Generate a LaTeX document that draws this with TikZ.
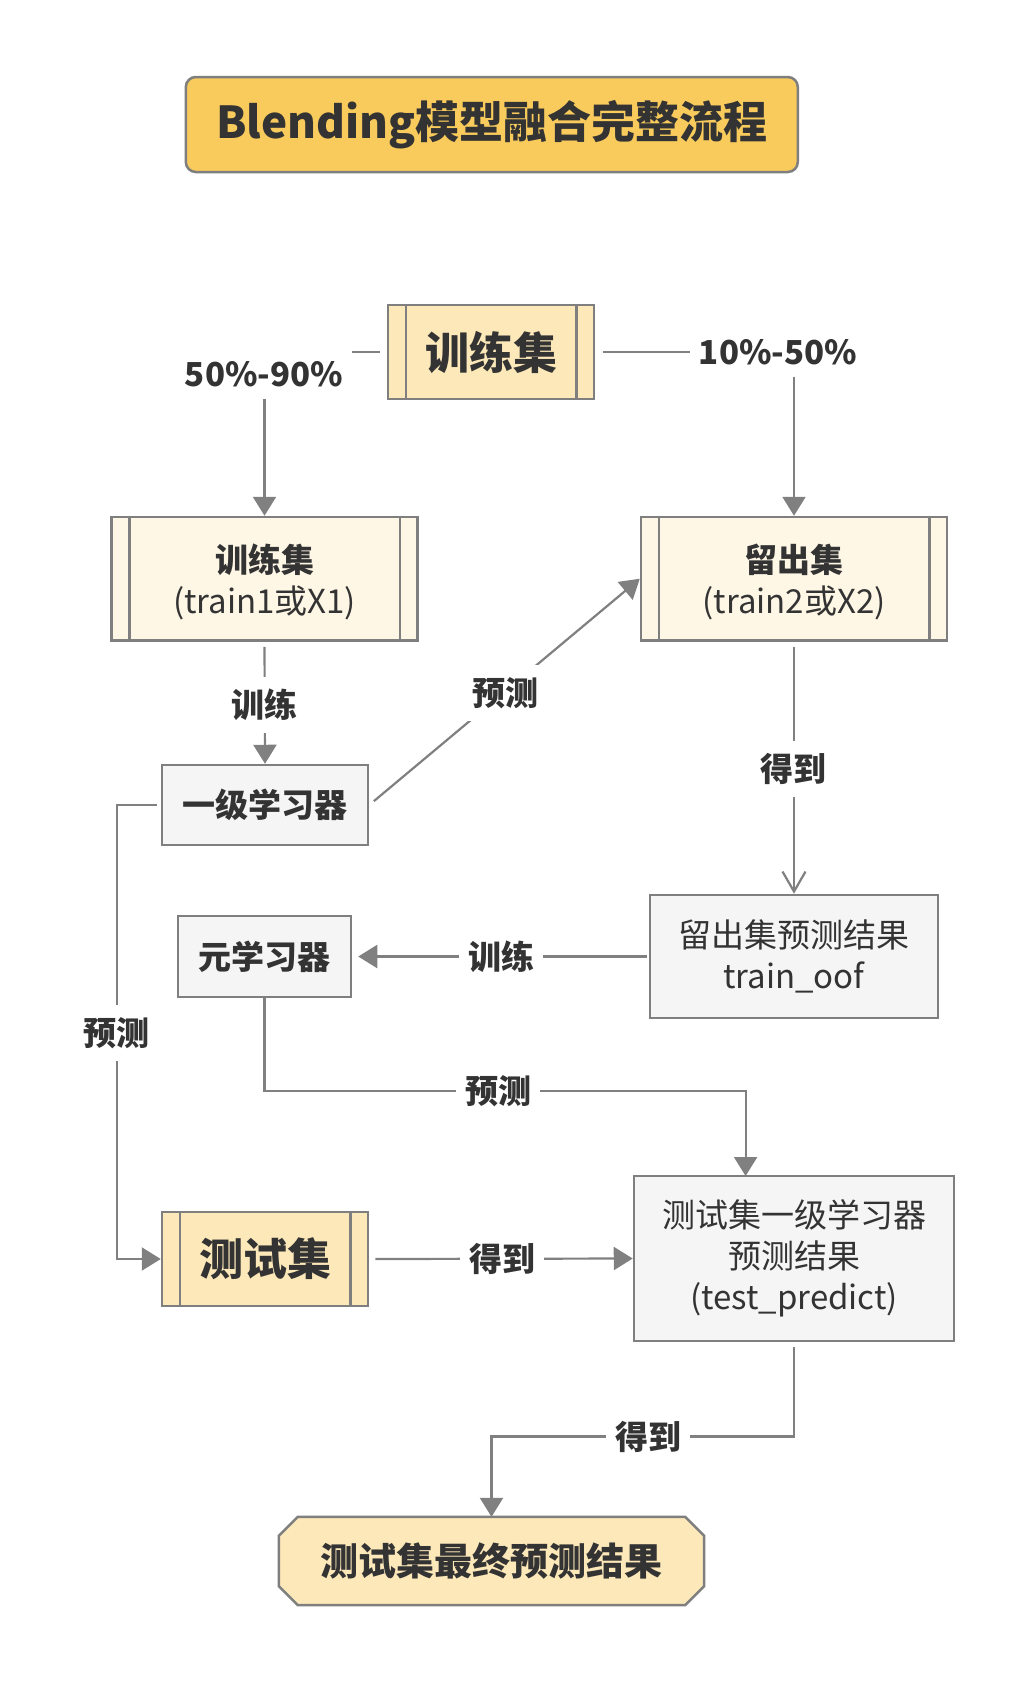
\documentclass[tikz,border=0pt]{standalone}
\usepackage{fontspec}
\setmainfont{Noto Sans CJK SC}
\usetikzlibrary{arrows.meta,backgrounds}
\definecolor{edge}{HTML}{808080}
\definecolor{bord}{HTML}{7F7F7F}
\definecolor{txt}{HTML}{333333}
\definecolor{gold}{HTML}{F9CB5C}
\definecolor{wheat}{HTML}{FCE8B9}
\definecolor{cream}{HTML}{FFF7E6}
\definecolor{light}{HTML}{F5F5F5}
\begin{document}
\begin{tikzpicture}[x=1pt,y=-1pt,
 box/.style={draw=bord,line width=2.5pt,text=txt,align=center,inner sep=0pt},
 bar/.style={draw=bord,line width=2.5pt},
 conn/.style={draw=edge,line width=2.2pt,-{Triangle[width=23pt,length=19pt]},shorten <=5pt},
 lab/.style={fill=white,text=txt,inner xsep=9pt,inner ysep=12pt,font=\fontsize{33}{40}\selectfont\bfseries},
 big/.style={font=\fontsize{44}{52}\selectfont\bfseries},
 mid/.style={font=\fontsize{33}{41}\selectfont},
 midb/.style={font=\fontsize{33}{41}\selectfont\bfseries},
]
\useasboundingbox (0,0) rectangle (1032,1682);

% nodes
\node[box,big,fill=gold,rounded corners=10pt,minimum width=612pt,minimum height=95pt] (title) at (491.8,124.5) {Blending模型融合完整流程};

\node[box,big,fill=wheat,minimum width=206pt,minimum height=94pt] (top) at (491,352) {训练集};
\draw[bar] ([xshift=19pt]top.north west) -- ([xshift=19pt]top.south west);
\draw[bar] ([xshift=-19pt]top.north east) -- ([xshift=-19pt]top.south east);

\node[box,mid,fill=cream,minimum width=306pt,minimum height=123.5pt,text depth=-3pt] (train1) at (264.5,578.75) {{\bfseries 训练集}\\(train1或X1)};
\draw[bar] ([xshift=19pt]train1.north west) -- ([xshift=19pt]train1.south west);
\draw[bar] ([xshift=-19pt]train1.north east) -- ([xshift=-19pt]train1.south east);

\node[box,mid,fill=cream,minimum width=306pt,minimum height=123.5pt,text depth=-3pt] (hold) at (794,578.75) {{\bfseries 留出集}\\(train2或X2)};
\draw[bar] ([xshift=19pt]hold.north west) -- ([xshift=19pt]hold.south west);
\draw[bar] ([xshift=-19pt]hold.north east) -- ([xshift=-19pt]hold.south east);

\node[box,midb,fill=light,minimum width=206pt,minimum height=80pt] (learner) at (265,805) {一级学习器};

\node[box,midb,fill=light,minimum width=173pt,minimum height=81pt] (meta) at (264.5,956.5) {元学习器};

\node[box,mid,fill=light,minimum width=288pt,minimum height=123pt] (oof) at (794,956.5) {留出集预测结果\\train\_oof};

\node[box,big,fill=wheat,minimum width=206pt,minimum height=93.6pt] (test) at (265,1259) {测试集};
\draw[bar] ([xshift=19pt]test.north west) -- ([xshift=19pt]test.south west);
\draw[bar] ([xshift=-19pt]test.north east) -- ([xshift=-19pt]test.south east);

\node[box,mid,fill=light,minimum width=320pt,minimum height=165pt] (tp) at (794,1258.5) {测试集一级学习器\\预测结果\\(test\_predict)};

\node[text=txt,font=\fontsize{38}{46}\selectfont\bfseries,minimum width=425pt,minimum height=88pt,inner sep=0pt] (fin) at (491.5,1561) {测试集最终预测结果};
\begin{scope}[on background layer]
\fill[white] (0,0) rectangle (1032,1682);
\filldraw[fill=wheat,draw=bord,line width=2.5pt]
 ([xshift=19pt]fin.north west) -- ([xshift=-19pt]fin.north east) -- ([yshift=-19pt]fin.north east)
 -- ([yshift=19pt]fin.south east) -- ([xshift=-19pt]fin.south east) -- ([xshift=19pt]fin.south west)
 -- ([yshift=19pt]fin.south west) -- ([yshift=-19pt]fin.north west) -- cycle;
\end{scope}

% coordinates
\coordinate (lc) at (117,805);
\coordinate (mc) at (745.6,1091);
\coordinate (tpin) at (745.6,1176);
\coordinate (fc) at (491.5,1436.5);

% connectors
\draw[conn,shorten <=7pt] (top.west) -| (train1.north);
\draw[conn,shorten <=8pt] (top.east) -| (hold.north);
\draw[conn] (train1.south) -- (learner.north);
\draw[conn,shorten <=6pt] (learner.east) -- (hold.west);
\draw[conn,-{Straight Barb[width=23pt,length=20pt]}] (hold.south) -- (oof.north);
\draw[conn,shorten <=2pt] (oof.west) -- ([xshift=6pt]meta.east);
\draw[conn,shorten <=0pt] (meta.south) |- (mc) -- (tpin);
\draw[conn,shorten <=4pt] (learner.west) -- (lc) |- (test.west);
\draw[conn,shorten <=6pt] (test.east) -- (tp.west);
\draw[conn] (tp.south) |- (fc) -- (fin.north);

% labels
\node[lab] (l1) at (264,374) {50\%-90\%};
\node[lab] (l2) at (778,352) {10\%-50\%};
\node[lab] (l3) at (264,705) {训练};
\node[lab] (l4) at (505,693) {预测};
\node[lab] (l5) at (793,769) {得到};
\node[lab] (l6) at (501,957) {训练};
\node[lab] (l7) at (498,1091) {预测};
\node[lab] (l8) at (116,1033) {预测};
\node[lab] (l9) at (502,1259) {得到};
\node[lab] (l10) at (648,1436.5) {得到};
\end{tikzpicture}
\end{document}
